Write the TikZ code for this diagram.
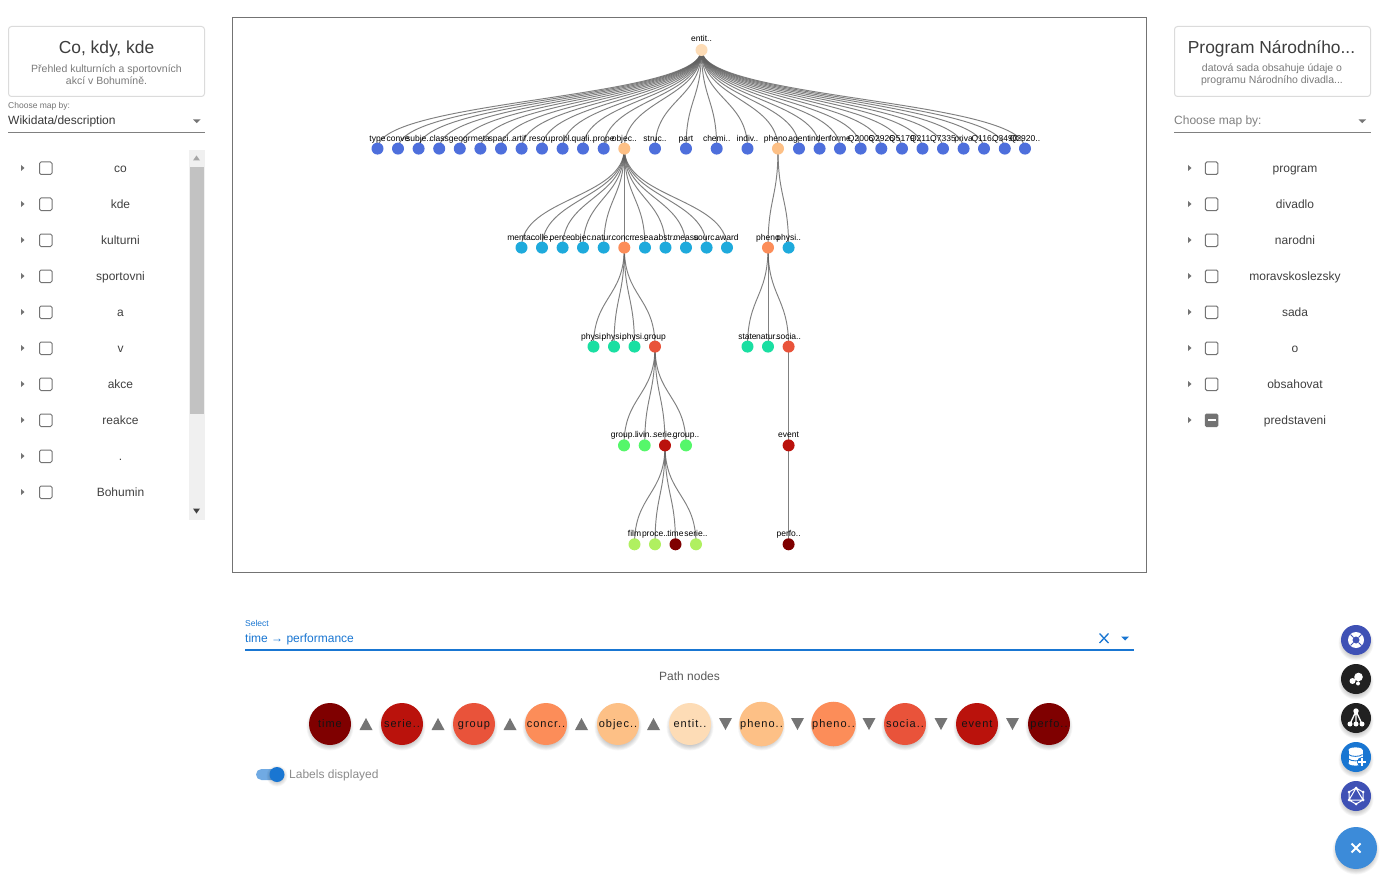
\documentclass[tikz,border=0pt]{standalone}
\usepackage{fontspec}
\setmainfont{Liberation Sans}
\newfontfamily\pathfont[LetterSpace=9]{Liberation Sans}
\usetikzlibrary{calc,backgrounds}
\definecolor{blu}{HTML}{4E6FDC}
\definecolor{cya}{HTML}{1EAADC}
\definecolor{grn}{HTML}{1ADFA2}
\definecolor{lgr}{HTML}{55F76A}
\definecolor{ylg}{HTML}{B0F060}
\definecolor{c0}{HTML}{FDDCB6}
\definecolor{c1}{HTML}{FDC086}
\definecolor{c2}{HTML}{FC8D59}
\definecolor{c3}{HTML}{E9533A}
\definecolor{c4}{HTML}{BA120C}
\definecolor{c5}{HTML}{7F0000}
\definecolor{mblue}{HTML}{1976D2}
\definecolor{indigo}{HTML}{3F51B5}
\definecolor{ink}{HTML}{212121}
\tikzset{
  dot/.style={circle,inner sep=0pt,minimum size=12pt,draw=none},
  lbl/.style={inner sep=0pt,anchor=base,font=\fontsize{8.5}{9}\selectfont,text=black},
  edge/.style={draw=black!62,line width=0.95pt,opacity=0.8},
  rowtext/.style={inner sep=0pt,anchor=base,font=\fontsize{12}{14}\selectfont,text=black!75},
  title/.style={inner sep=0pt,anchor=base,font=\fontsize{17.4}{20}\selectfont,text=black!76},
  sub/.style={inner sep=0pt,align=center,font=\fontsize{10.5}{12}\selectfont,text=black!52},
  card/.style={draw=black!14,line width=1pt,rounded corners=3pt},
  chk/.style={draw=black!55,line width=1pt,rounded corners=1.5pt},
  pathnode/.style={circle,inner sep=0pt,minimum size=42pt,text height=10.5pt,text depth=3pt,font=\pathfont\fontsize{11}{12}\selectfont,text=black!92},
  tri/.style={fill=black!54,draw=none},
  fab/.style={circle,inner sep=0pt,minimum size=30pt,draw=none}
}
\newcommand{\lnk}[2]{%
  \begin{pgfonlayer}{background}
  \edef\lnkA{#1}\edef\lnkB{#2}%
  \draw[edge] let \p1=(\lnkA.center),\p2=(\lnkB.center),\n1={0.5*(\y1+\y2)} in
    (\p1) .. controls (\x1,\n1) and (\x2,\n1) .. (\p2);
  \end{pgfonlayer}}
% parent, name, x, y, colour, label
\newcommand{\nd}[6]{%
  \node[dot,fill=#5] (#2) at (#3,#4) {};
  \node[lbl] (#2-l) at (#3,#4-7.5) {#6};
  \lnk{#1}{#2}}
\newcommand{\softshadow}[3]{%
  \foreach \k in {0,1,...,5}{\fill[black,opacity=0.035] (#1,#2+3) circle[radius=#3+\k*0.9];}}
\begin{document}
\begin{tikzpicture}[x=1pt,y=-1pt]
\useasboundingbox (0,0) rectangle (1385,880);
\begin{pgfonlayer}{background}
\fill[white] (0,0) rectangle (1385,880);
\end{pgfonlayer}

% ---------- left panel
\draw[card] (8.5,26.5) rectangle (204.5,96.5);
\node[title] (ltitle) at (106.5,54) {Co, kdy, kde};
\node[sub] (lsub) at (106.5,74.5) {Přehled kulturních a sportovních\\akcí v Bohumíně.};
\node[inner sep=0pt,anchor=base west,font=\fontsize{8.5}{10}\selectfont,text=black!55] (lchoose) at (8,108.5) {Choose map by:};
\node[inner sep=0pt,anchor=base west,font=\fontsize{12}{14}\selectfont,text=black!78] (lvalue) at (8,125) {Wikidata/description};
\draw[black!50,line width=1pt] (8,132.5) -- (205,132.5);
\fill[black!54] (193,119.5) -- (200.5,119.5) -- (196.75,123.2) -- cycle;
\fill[black!6] (189,150) rectangle (205,520);
\fill[black!24] (190,167) rectangle (204,414);
\fill[black!35] (193,160.5) -- (200,160.5) -- (196.5,155.5) -- cycle;
\fill[black!75] (193,508.5) -- (200,508.5) -- (196.5,513.5) -- cycle;
\foreach \i/\lab in {0/co,1/kde,2/kulturni,3/sportovni,4/a,5/v,6/akce,7/reakce,8/.,9/Bohumin}{
  \pgfmathsetmacro\yy{168+36*\i}
  \fill[black!55] (21,\yy-3) -- (24.5,\yy) -- (21,\yy+3) -- cycle;
  \draw[chk] (39.5,\yy-6) rectangle (52,\yy+6.5);
  \node[rowtext] (lrow\i) at (120.5,\yy+4.3) {\lab};
}

% ---------- right panel
\draw[card] (1174.5,26.5) rectangle (1370.5,96.5);
\node[title] (rtitle) at (1271.5,54) {Program Národního...};
\node[sub] (rsub) at (1272,74.5) {datová sada obsahuje údaje o\\programu Národního divadla...};
\node[inner sep=0pt,anchor=base west,font=\fontsize{12}{14}\selectfont,text=black!50] (rchoose) at (1174,125) {Choose map by:};
\draw[black!50,line width=1pt] (1174,132.5) -- (1371,132.5);
\fill[black!54] (1358.5,119.5) -- (1366,119.5) -- (1362.25,123.2) -- cycle;
\foreach \i/\lab in {0/program,1/divadlo,2/narodni,3/moravskoslezsky,4/sada,5/o,6/obsahovat}{
  \pgfmathsetmacro\yy{168+36*\i}
  \fill[black!55] (1188,\yy-3) -- (1191.5,\yy) -- (1188,\yy+3) -- cycle;
  \draw[chk] (1205.3,\yy-6) rectangle (1217.8,\yy+6.5);
  \node[rowtext] (rrow\i) at (1295,\yy+4.3) {\lab};
}
\fill[black!55] (1188,417) -- (1191.5,420) -- (1188,423) -- cycle;
\fill[black!55,rounded corners=1.5pt] (1204.8,413.6) rectangle (1218.3,427);
\fill[white] (1207.5,419.4) rectangle (1215.5,421.2);
\node[rowtext] (rrow7) at (1295,424.3) {predstaveni};

% ---------- tree frame
\draw[black!55,line width=1pt] (232.5,17.5) rectangle (1146.5,572.5);

% root
\node[dot,fill=c0] (root) at (701.5,50) {};
\node[lbl] (root-l) at (701.5,42) {entit..};

% level 1
\foreach \nm/\xx/\lb/\cl in {
 a1/377.5/type/blu,a2/398/conve/blu,a3/418.6/subje../blu,a4/439.2/class/blu,a5/459.8/geogr/blu,
 a6/480.4/meta/blu,a7/501/spaci../blu,a8/521.6/artif../blu,a9/542/resou../blu,a10/562.6/probl../blu,
 a11/583/quali../blu,a12/603.7/prope/blu,aobj/624.3/objec../c1,a14/655/struc../blu,a15/686/part/blu,
 a16/716.7/chemi../blu,a17/747.5/indiv../blu,aphe/778/pheno../c1,a19/799/agent/blu,a20/819.6/inden/blu,
 a21/840/forme/blu,a22/860.7/Q2006/blu,a23/881.3/Q2926/blu,a24/902/Q5179/blu,a25/922.5/Q211../blu,
 a26/943/Q7335/blu,a27/963.6/priva/blu,a28/984/Q116../blu,a29/1004.8/Q3490/blu,a30/1025/Q2920../blu}{
  \nd{root}{\nm}{\xx}{148.6}{\cl}{\lb}
}

% level 2
\foreach \nm/\xx/\lb/\cl in {
 b1/521.5/menta../cya,b2/542/colle../cya,b3/562.6/perce../cya,b4/583/objec../cya,b5/603.7/natur../cya,
 bcon/624.3/concr../c2,b7/645/resea../cya,b8/665.5/abstr../cya,b9/686/measu/cya,b10/706.6/sourc../cya,b11/727/award/cya}{
  \nd{aobj}{\nm}{\xx}{247.6}{\cl}{\lb}
}
\nd{aphe}{bphe}{768}{247.6}{c2}{pheno}
\nd{aphe}{b13}{788.6}{247.6}{cya}{physi..}

% level 3
\foreach \nm/\xx/\lb/\cl in {c1n/593.5/physi../grn,c2n/614/physi../grn,c3n/634.5/physi../grn,cgrp/655/group/c3}{
  \nd{bcon}{\nm}{\xx}{346.6}{\cl}{\lb}
}
\foreach \nm/\xx/\lb/\cl in {c5n/747.5/state/grn,c6n/768/natur../grn,csoc/788.6/socia../c3}{
  \nd{bphe}{\nm}{\xx}{346.6}{\cl}{\lb}
}

% level 4
\foreach \nm/\xx/\lb/\cl in {d1/624/group../lgr,d2/644.7/livin../lgr,dser/665/serie../c4,d4/686/group../lgr}{
  \nd{cgrp}{\nm}{\xx}{445.4}{\cl}{\lb}
}
\nd{csoc}{devt}{788.6}{445.4}{c4}{event}

% level 5
\foreach \nm/\xx/\lb/\cl in {e1/634.5/film/ylg,e2/655/proce../ylg,e3/675.5/time/c5,e4/696/serie../ylg}{
  \nd{dser}{\nm}{\xx}{544.3}{\cl}{\lb}
}
\nd{devt}{eprf}{788.6}{544.3}{c5}{perfo..}

% ---------- select
\node[inner sep=0pt,anchor=base west,font=\fontsize{8.5}{10}\selectfont,text=mblue] (sellab) at (245,626) {Select};
\node[inner sep=0pt,anchor=base west,font=\fontsize{12}{14}\selectfont,text=mblue] (selval) at (245,642) {time → performance};
\draw[mblue,line width=1.7pt] (245,650) -- (1134,650);
\draw[mblue,line width=1.3pt] (1099.5,633.5) -- (1108.5,643) (1108.5,633.5) -- (1099.5,643);
\fill[mblue] (1121,636.5) -- (1129,636.5) -- (1125,640.5) -- cycle;
\node[inner sep=0pt,anchor=base,font=\fontsize{12}{14}\selectfont,text=black!65] (pathtitle) at (689.5,680) {Path nodes};

% ---------- path nodes
\foreach \nm/\xx/\cl/\lb in {p0/330/c5/time,p1/402/c4/serie..,p2/474/c3/group,p3/546/c2/concr..,p4/618/c1/objec..,
  p5/690/c0/entit..,p6/761.5/c1/pheno..,p7/833.5/c2/pheno..,p8/905/c3/socia..,p9/977/c4/event,p10/1049/c5/perfo..}{
  \softshadow{\xx}{724}{19}
  \node[pathnode,fill=\cl] (\nm) at (\xx,724) {\lb};
}
\foreach \xx in {366,438,510,581.5,653.5}{
  \fill[tri] (\xx-6.5,730) -- (\xx+6.5,730) -- (\xx,718) -- cycle;
}
\foreach \xx in {725.5,797.5,869,941,1012.5}{
  \fill[tri] (\xx-6.5,718) -- (\xx+6.5,718) -- (\xx,730) -- cycle;
}

% ---------- toggle
\fill[mblue!62,rounded corners=5.5pt] (256,769) rectangle (283,780);
\softshadow{277}{773}{6}
\fill[mblue] (277,774.5) circle[radius=7.5pt];
\node[inner sep=0pt,anchor=base west,font=\fontsize{12}{14}\selectfont,text=black!45] (toglab) at (289,778) {Labels displayed};

% ---------- floating buttons
\foreach \nm/\yy/\cl in {f1/640/indigo,f2/679/ink,f3/718/ink,f4/757/mblue,f5/796/indigo}{
  \softshadow{1356}{\yy}{13}
  \node[fab,fill=\cl] (\nm) at (1356,\yy) {};
}
\softshadow{1356}{848}{19}
\node[fab,minimum size=42pt,fill=mblue!85!white] (f6) at (1356,848) {};
\draw[white,line width=1.8pt] (1351.5,843.5) -- (1360.5,852.5) (1360.5,843.5) -- (1351.5,852.5);
% lifebuoy
\fill[white,even odd rule] (1356,640) circle[radius=8pt] (1356,640) circle[radius=3.6pt];
\draw[indigo,line width=1pt] (1350.5,634.5) -- (1353.5,637.5) (1361.5,634.5) -- (1358.5,637.5)
  (1350.5,645.5) -- (1353.5,642.5) (1361.5,645.5) -- (1358.5,642.5);
% bubbles
\fill[white] (1358.5,677) circle[radius=4.3pt] (1352.5,681) circle[radius=3pt] (1358,683.5) circle[radius=2pt];
% sitemap
\draw[white,line width=1.3pt] (1356,711) -- (1350,724) (1356,711) -- (1356,724) (1356,711) -- (1362,724);
\fill[white] (1356,711) circle[radius=2.7pt] (1350,724) circle[radius=2.5pt] (1356,724) circle[radius=2.5pt] (1362,724) circle[radius=2.5pt];
% database
\fill[white] (1348.5,750) rectangle (1362.5,763);
\fill[white] (1355.5,750) ellipse[x radius=7pt,y radius=2.6pt] (1355.5,763) ellipse[x radius=7pt,y radius=2.6pt];
\draw[mblue,line width=0.9pt] (1348.5,754.5) .. controls (1351,757) and (1360,757) .. (1362.5,754.5)
  (1348.5,759) .. controls (1351,761.5) and (1360,761.5) .. (1362.5,759);
\fill[mblue] (1362,762) circle[radius=5pt];
\draw[white,line width=1.4pt] (1358,762) -- (1366,762) (1362,758) -- (1362,766);
% graph hexagon
\draw[white,line width=1pt] (1356,788) -- (1363,792) -- (1363,800) -- (1356,804) -- (1349,800) -- (1349,792) -- cycle
  (1356,788) -- (1363,800) -- (1349,800) -- cycle;
\fill[white] (1356,788) circle[radius=1.5pt] (1363,792) circle[radius=1.5pt] (1363,800) circle[radius=1.5pt]
  (1356,804) circle[radius=1.5pt] (1349,800) circle[radius=1.5pt] (1349,792) circle[radius=1.5pt];
\end{tikzpicture}
\end{document}
